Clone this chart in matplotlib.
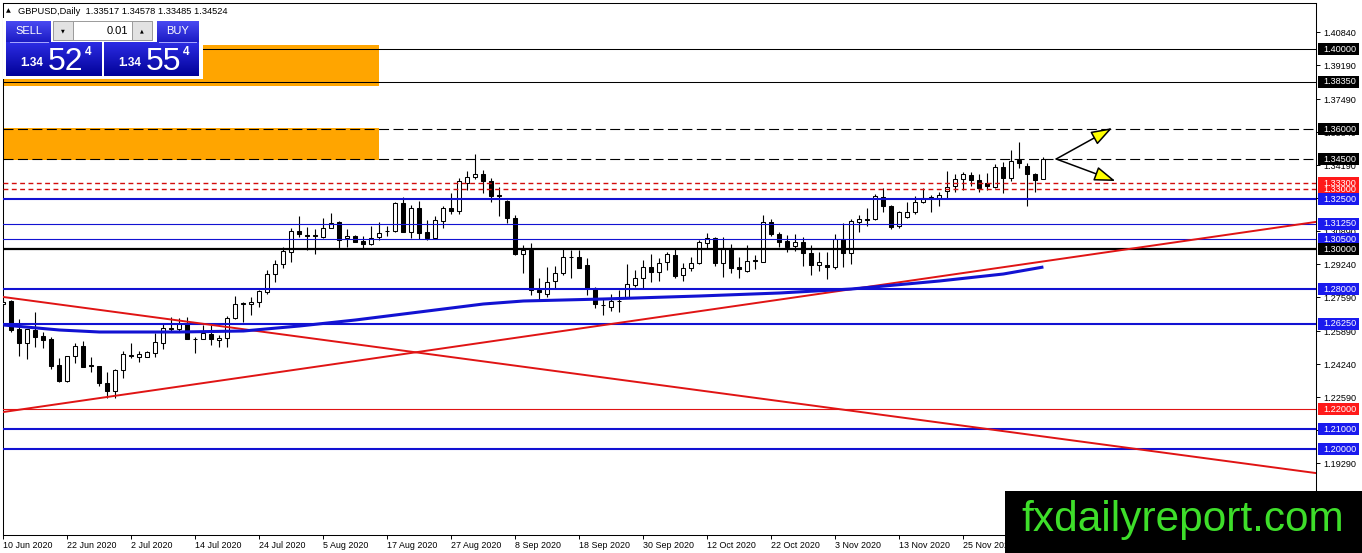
import numpy as np
import matplotlib.pyplot as plt
from matplotlib.patches import Rectangle
from matplotlib.colors import LinearSegmentedColormap

plt.rcParams['font.family'] = ['Liberation Sans', 'DejaVu Sans']

# daily candles GBPUSD, one per weekday from 10 Jun 2020
opens = [1.2725, 1.2742, 1.2598, 1.2528, 1.2595, 1.2565, 1.2548, 1.2420, 1.2342, 1.2465,
         1.2515, 1.2418, 1.2415, 1.2332, 1.2292, 1.2395, 1.2470, 1.2462, 1.2462, 1.2482,
         1.2532, 1.2603, 1.2598, 1.2623, 1.2552, 1.2550, 1.2573, 1.2545, 1.2557, 1.2653,
         1.2728, 1.2723, 1.2733, 1.2783, 1.2873, 1.2923, 1.2987, 1.3090, 1.3068, 1.3070,
         1.3062, 1.3103, 1.3133, 1.3053, 1.3065, 1.3042, 1.3023, 1.3058, 1.3090, 1.3090,
         1.3228, 1.3087, 1.3207, 1.3083, 1.3057, 1.3140, 1.3207, 1.3190, 1.3328, 1.3358,
         1.3373, 1.3340, 1.3268, 1.3240, 1.3153, 1.2973, 1.2995, 1.2795, 1.2773, 1.2840,
         1.2878, 1.2962, 1.2962, 1.2920, 1.2807, 1.2722, 1.2712, 1.2742, 1.2757, 1.2820,
         1.2857, 1.2912, 1.2883, 1.2933, 1.2970, 1.2870, 1.2907, 1.2928, 1.3028, 1.3053,
         1.2928, 1.3003, 1.2908, 1.2892, 1.2943, 1.2937, 1.3137, 1.3075, 1.3042, 1.3015,
         1.3037, 1.2978, 1.2920, 1.2920, 1.2908, 1.3048, 1.2978, 1.3137, 1.3148, 1.3148,
         1.3262, 1.3217, 1.3113, 1.3162, 1.3183, 1.3237, 1.3260, 1.3253, 1.3290, 1.3317,
         1.3350, 1.3370, 1.3345, 1.3328, 1.3312, 1.3408, 1.3357, 1.3445, 1.3417, 1.3373,
         1.3352]
highs = [1.2755, 1.2745, 1.2648, 1.2600, 1.2683, 1.2587, 1.2562, 1.2453, 1.2467, 1.2532,
         1.2540, 1.2458, 1.2415, 1.2387, 1.2398, 1.2492, 1.2528, 1.2492, 1.2490, 1.2578,
         1.2628, 1.2662, 1.2655, 1.2662, 1.2562, 1.2620, 1.2620, 1.2570, 1.2667, 1.2765,
         1.2733, 1.2762, 1.2795, 1.2895, 1.2945, 1.3012, 1.3103, 1.3165, 1.3108, 1.3100,
         1.3153, 1.3178, 1.3140, 1.3100, 1.3070, 1.3067, 1.3117, 1.3133, 1.3117, 1.3233,
         1.3262, 1.3220, 1.3240, 1.3145, 1.3167, 1.3217, 1.3278, 1.3353, 1.3390, 1.3473,
         1.3395, 1.3353, 1.3312, 1.3245, 1.3170, 1.3020, 1.3028, 1.2857, 1.2912, 1.2917,
         1.3003, 1.2995, 1.2995, 1.2953, 1.2812, 1.2753, 1.2773, 1.2795, 1.2923, 1.2895,
         1.2945, 1.2973, 1.2953, 1.2987, 1.3003, 1.2928, 1.2962, 1.3045, 1.3078, 1.3062,
         1.3062, 1.3025, 1.2958, 1.3018, 1.2970, 1.3170, 1.3148, 1.3087, 1.3070, 1.3075,
         1.3058, 1.3020, 1.2987, 1.2987, 1.3075, 1.3132, 1.3148, 1.3170, 1.3203, 1.3275,
         1.3303, 1.3220, 1.3190, 1.3233, 1.3265, 1.3303, 1.3270, 1.3287, 1.3390, 1.3373,
         1.3387, 1.3383, 1.3373, 1.3378, 1.3423, 1.3433, 1.3495, 1.3533, 1.3428, 1.3378,
         1.3458]
lows = [1.2708, 1.2583, 1.2465, 1.2448, 1.2512, 1.2503, 1.2398, 1.2337, 1.2337, 1.2428,
        1.2408, 1.2387, 1.2315, 1.2253, 1.2253, 1.2353, 1.2453, 1.2437, 1.2458, 1.2458,
        1.2500, 1.2592, 1.2585, 1.2550, 1.2478, 1.2550, 1.2520, 1.2512, 1.2512, 1.2650,
        1.2637, 1.2670, 1.2712, 1.2773, 1.2833, 1.2907, 1.2937, 1.3062, 1.2995, 1.2973,
        1.3053, 1.3103, 1.3000, 1.3012, 1.3033, 1.3000, 1.3020, 1.3045, 1.3067, 1.3087,
        1.3083, 1.3057, 1.3050, 1.3045, 1.3050, 1.3107, 1.3173, 1.3173, 1.3295, 1.3348,
        1.3278, 1.3233, 1.3167, 1.3128, 1.2970, 1.2878, 1.2770, 1.2745, 1.2762, 1.2807,
        1.2870, 1.2857, 1.2905, 1.2770, 1.2707, 1.2670, 1.2690, 1.2683, 1.2753, 1.2812,
        1.2807, 1.2837, 1.2840, 1.2895, 1.2857, 1.2840, 1.2890, 1.2923, 1.3003, 1.2915,
        1.2858, 1.2882, 1.2853, 1.2887, 1.2898, 1.2937, 1.3065, 1.3012, 1.2987, 1.2992,
        1.2915, 1.2870, 1.2892, 1.2848, 1.2898, 1.2908, 1.2925, 1.3087, 1.3115, 1.3145,
        1.3183, 1.3100, 1.3103, 1.3157, 1.3173, 1.3228, 1.3187, 1.3217, 1.3257, 1.3283,
        1.3295, 1.3317, 1.3283, 1.3295, 1.3307, 1.3278, 1.3340, 1.3403, 1.3217, 1.3283,
        1.3349]
closes = [1.2737, 1.2595, 1.2532, 1.2598, 1.2562, 1.2545, 1.2415, 1.2342, 1.2465, 1.2515,
          1.2412, 1.2413, 1.2328, 1.2292, 1.2395, 1.2475, 1.2467, 1.2475, 1.2487, 1.2537,
          1.2603, 1.2600, 1.2623, 1.2550, 1.2550, 1.2578, 1.2550, 1.2557, 1.2653, 1.2723,
          1.2725, 1.2735, 1.2790, 1.2873, 1.2923, 1.2990, 1.3090, 1.3077, 1.3067, 1.3065,
          1.3103, 1.3132, 1.3045, 1.3063, 1.3037, 1.3023, 1.3057, 1.3078, 1.3088, 1.3228,
          1.3087, 1.3207, 1.3082, 1.3057, 1.3145, 1.3207, 1.3190, 1.3340, 1.3358, 1.3373,
          1.3342, 1.3267, 1.3265, 1.3153, 1.2973, 1.2995, 1.2795, 1.2787, 1.2837, 1.2878,
          1.2958, 1.2960, 1.2907, 1.2803, 1.2723, 1.2720, 1.2740, 1.2740, 1.2823, 1.2857,
          1.2912, 1.2883, 1.2928, 1.2973, 1.2867, 1.2907, 1.2928, 1.3033, 1.3053, 1.2928,
          1.3003, 1.2903, 1.2902, 1.2942, 1.2941, 1.3137, 1.3075, 1.3037, 1.3012, 1.3037,
          1.2978, 1.2920, 1.2937, 1.2908, 1.3048, 1.2978, 1.3142, 1.3148, 1.3147, 1.3265,
          1.3217, 1.3112, 1.3183, 1.3187, 1.3233, 1.3257, 1.3253, 1.3270, 1.3312, 1.3350,
          1.3373, 1.3345, 1.3307, 1.3317, 1.3408, 1.3357, 1.3440, 1.3428, 1.3373, 1.3345,
          1.3452]

# moving average (read at a few bars)
ma_bars = [0, 7, 12, 22, 30, 37, 44, 52, 60, 65, 75, 87, 97, 106, 117, 125, 130]
ma_vals = [1.2620, 1.2595, 1.2585, 1.2585, 1.2590, 1.2615, 1.2645, 1.2685, 1.2725,
           1.2740, 1.2750, 1.2765, 1.2780, 1.2800, 1.2840, 1.2875, 1.2910]

# trend lines (bar, price) at both ends
tl_down_bars, tl_down_prices = [0, 164], [1.2760, 1.1880]
tl_up_bars, tl_up_prices = [0, 164], [1.2185, 1.3135]

# orange zones
zone_end_bar = 47
zones = [(1.3815, 1.4020), (1.3445, 1.3605)]

# horizontal levels
level_prices = [1.40000, 1.38350, 1.36000, 1.34500, 1.33000, 1.33300, 1.32500, 1.31250,
                1.30500, 1.30000, 1.28000, 1.26250, 1.22000, 1.21000, 1.20000]
level_kinds = ['black', 'black', 'dash', 'dash', 'reddash', 'reddash', 'blue', 'bluethin',
               'bluethin', 'blackthick', 'blue', 'blue', 'redthin', 'blue', 'blue']

# right scale ticks
price_ticks = [1.40840, 1.39190, 1.37490, 1.35840, 1.34190, 1.32540, 1.30890, 1.29240,
               1.27590, 1.25890, 1.24240, 1.22590, 1.20940, 1.19290, 1.17590]

date_labels = ['10 Jun 2020', '22 Jun 2020', '2 Jul 2020', '14 Jul 2020', '24 Jul 2020',
               '5 Aug 2020', '17 Aug 2020', '27 Aug 2020', '8 Sep 2020', '18 Sep 2020',
               '30 Sep 2020', '12 Oct 2020', '22 Oct 2020', '3 Nov 2020', '13 Nov 2020',
               '25 Nov 2020', '7 Dec 2020']
bars_per_label = 8

# projection arrows
arrow_start = (131.6, 1.3450)
arrow_ends = [(138.6, 1.3605), (139.0, 1.3340)]

W, H = 1362, 553
fig = plt.figure(figsize=(W / 100, H / 100), dpi=100)
ax = fig.add_axes([3 / W, 18 / H, 1313 / W, 532 / H])
ax.set_xlim(-0.05, -0.05 + 1313 / 8)
ax.set_ylim(1.157, 1.423)
for s in ax.spines.values():
    s.set_linewidth(0.75)
    s.set_color('black')

blue = '#1212d2'
red = '#e01414'

for lo, hi in zones:
    ax.fill_between([-0.05, zone_end_bar], lo, hi, color='#ffa500', lw=0, zorder=1)

# candles
x = np.arange(len(opens))
o = np.array(opens); c = np.array(closes)
ax.vlines(x, lows, highs, color='black', lw=0.8, zorder=3)
up = c >= o
ax.bar(x[up], (c - o)[up], bottom=o[up], width=0.5, color='white',
       edgecolor='black', linewidth=0.75, zorder=4)
ax.bar(x[~up], (o - c)[~up], bottom=c[~up], width=0.5, color='black',
       edgecolor='black', linewidth=0.75, zorder=4)

styles = {
    'black': dict(color='black', lw=0.75),
    'blackthick': dict(color='black', lw=1.6),
    'dash': dict(color='black', lw=0.8, ls=(0, (9, 4))),
    'reddash': dict(color='#d40c0c', lw=1.0, ls=(0, (3.5, 2.5))),
    'blue': dict(color=blue, lw=1.5),
    'bluethin': dict(color=blue, lw=0.8),
    'redthin': dict(color=red, lw=0.8),
}
for p, k in zip(level_prices, level_kinds):
    ax.axhline(p, zorder=5, **styles[k])

ax.plot(tl_down_bars, tl_down_prices, color=red, lw=1.4, zorder=5)
ax.plot(tl_up_bars, tl_up_prices, color=red, lw=1.4, zorder=5)
ax.plot(ma_bars, ma_vals, color=blue, lw=2.2, zorder=5, solid_capstyle='butt')

for end in arrow_ends:
    ax.annotate('', xy=end, xytext=arrow_start, zorder=6,
                arrowprops=dict(arrowstyle='-|>,head_length=1.3,head_width=0.45',
                                fc='#ffff00', ec='black', lw=1.1, shrinkA=0, shrinkB=0))

# right price scale
ax.yaxis.tick_right()
ax.set_yticks(price_ticks)
ax.set_yticklabels([f'{v:.5f}' for v in price_ticks])
ax.tick_params(axis='y', length=3, width=0.7, pad=2, labelsize=6.6)
box_col = {'black': 'black', 'blackthick': 'black', 'dash': 'black', 'reddash': '#ff1a1a',
           'blue': '#1a1aee', 'bluethin': '#1a1aee', 'redthin': '#ff1a1a'}
ytr = ax.get_yaxis_transform()
for p, k in zip(level_prices, level_kinds):
    ax.add_patch(Rectangle((1315 / 1313, p - 0.0031), 41 / 1313, 0.0062, transform=ytr,
                           fc=box_col[k], ec='none', clip_on=False, zorder=7))
    ax.text(1320 / 1313, p, f'{p:.5f}', transform=ytr, color='white', fontsize=6.6,
            va='center', ha='left', clip_on=False, zorder=8)

# dates along the bottom
ax.set_xticks(np.arange(len(date_labels)) * bars_per_label)
ax.set_xticklabels(date_labels, ha='left')
ax.tick_params(axis='x', length=3, width=0.7, pad=1.5, labelsize=6.4)

# overlay in pixel units: title, trade panel, watermark
ov = fig.add_axes([0, 0, 1, 1], zorder=10)
ov.axis('off')


def grad_box(x0, y0, x1, y1, top, bottom):
    cmap = LinearSegmentedColormap.from_list('g', [top, bottom])
    ov.imshow(np.linspace(0, 1, 64).reshape(-1, 1), cmap=cmap, extent=(x0, x1, y1, y0),
              aspect='auto', interpolation='bilinear', zorder=2)


ov.text(6, 11, '▲', fontsize=4.5, va='center', family=['DejaVu Sans'])
ov.text(18, 11, 'GBPUSD,Daily  1.33517 1.34578 1.33485 1.34524', fontsize=6.7, va='center')

ov.add_patch(Rectangle((3, 18), 200, 61, fc='white', ec='none', zorder=1))
grad_box(6, 21, 51, 42, '#4a4af2', '#1b1bc4')
grad_box(157, 21, 199, 42, '#4a4af2', '#1b1bc4')
grad_box(6, 42, 102, 76, '#2c2ce4', '#020298')
grad_box(104, 42, 199, 76, '#2c2ce4', '#020298')
ov.plot([10, 48], [41.5, 41.5], color='#a8a8ff', lw=0.7, zorder=3)
ov.plot([159, 196], [41.5, 41.5], color='#a8a8ff', lw=0.7, zorder=3)
ov.add_patch(Rectangle((53, 21), 99, 19, fc='white', ec='#9a9a9a', lw=0.7, zorder=3))
ov.add_patch(Rectangle((53, 21), 20, 19, fc='#e2e2e2', ec='#9a9a9a', lw=0.7, zorder=3))
ov.add_patch(Rectangle((132, 21), 20, 19, fc='#e2e2e2', ec='#9a9a9a', lw=0.7, zorder=3))
ov.text(63, 30.5, '▼', fontsize=3.5, ha='center', va='center', family=['DejaVu Sans'], zorder=4)
ov.text(142, 30.5, '▲', fontsize=3.5, ha='center', va='center', family=['DejaVu Sans'], zorder=4)
ov.text(128, 30.5, '0.01', fontsize=8, ha='right', va='center', zorder=4)
ov.text(28.5, 31, 'SELL', fontsize=8, ha='center', va='center', color='white', zorder=4)
ov.text(178, 31, 'BUY', fontsize=8, ha='center', va='center', color='white', zorder=4)
for x0, big in [(20, '52'), (118, '55')]:
    ov.text(x0, 66, '1.34', fontsize=8.5, color='white', va='baseline', weight='bold', zorder=4)
    ov.text(x0 + 28, 70, big, fontsize=23, color='white', va='baseline', zorder=4)
    ov.text(x0 + 65, 55, '4', fontsize=8.5, color='white', va='baseline', weight='bold', zorder=4)

ov.add_patch(Rectangle((1005, 491), 357, 62, fc='black', ec='none', zorder=1))
ov.text(1021, 531, 'fxdailyreport.com', fontsize=30.5, color='#3ede2a', va='baseline', zorder=4)

ov.set_xlim(0, W)
ov.set_ylim(H, 0)

fig.savefig('out.png', dpi=100, facecolor='white')
